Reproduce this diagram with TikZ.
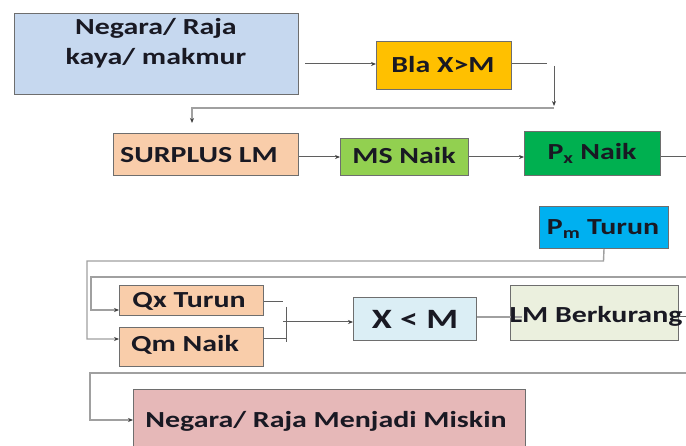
\documentclass[tikz,border=0pt]{standalone}
\usepackage{fontspec}
\setmainfont{Carlito}[FakeStretch=1.3]
\usetikzlibrary{arrows.meta}
\definecolor{bordercol}{RGB}{110,110,110}
\definecolor{linecol}{RGB}{95,95,95}
\definecolor{lightcol}{RGB}{160,160,160}
\definecolor{cB}{RGB}{198,216,239}
\definecolor{cBla}{RGB}{255,192,0}
\definecolor{cPeach}{RGB}{249,205,170}
\definecolor{cMS}{RGB}{146,208,80}
\definecolor{cPx}{RGB}{0,176,80}
\definecolor{cPm}{RGB}{0,176,240}
\definecolor{cXM}{RGB}{219,238,245}
\definecolor{cLM}{RGB}{235,240,222}
\definecolor{cMis}{RGB}{230,184,184}
\definecolor{txtcol}{RGB}{25,25,35}
\begin{document}
\begin{tikzpicture}[x=1pt,y=-1pt,
  box/.style={draw=bordercol, line width=1pt, inner sep=0pt, anchor=north west},
  txt/.style={font=\bfseries\fontsize{23}{28}\selectfont, text=txtcol, inner sep=0pt, anchor=base},
  bigtxt/.style={txt, font=\bfseries\fontsize{28}{32}\selectfont},
  conn/.style={draw=linecol, line width=1pt},
  arr/.style={conn, -{Stealth[length=5pt,width=4pt,color=black!75]}},
  light/.style={draw=lightcol, line width=1.4pt},
  larr/.style={light, -{Stealth[length=5pt,width=4pt,color=black!75]}}
]
\clip (0,0) rectangle (686,446);
\useasboundingbox (0,0) rectangle (686,446);

% boxes
\node[box, fill=cB,    minimum width=284pt, minimum height=81pt] (b1) at (14,13) {};
\node[box, fill=cBla,  minimum width=135pt, minimum height=48pt] (bla) at (376,41) {};
\node[box, fill=cPeach,minimum width=185pt, minimum height=42pt] (sur) at (113,133) {};
\node[box, fill=cMS,   minimum width=128pt, minimum height=37pt] (ms) at (340,138) {};
\node[box, fill=cPx,   minimum width=136pt, minimum height=44pt] (px) at (524,131) {};
\node[box, fill=cPm,   minimum width=129pt, minimum height=42pt] (pm) at (539,206) {};
\node[box, fill=cPeach,minimum width=144pt, minimum height=30pt] (qx) at (119,285) {};
\node[box, fill=cPeach,minimum width=144pt, minimum height=39pt] (qm) at (119,327) {};
\node[box, fill=cXM,   minimum width=123pt, minimum height=43pt] (xm) at (353,297) {};
\node[box, fill=cLM,   minimum width=168pt, minimum height=55pt] (lm) at (510,285) {};
\node[box, fill=cMis,  minimum width=392pt, minimum height=64pt] (mis) at (133,389) {};

% texts
\node[txt] (t1a) at (156,35) {Negara/ Raja};
\node[txt] (t1b) at (156,65) {kaya/ makmur};
\node[txt] (tbla) at (443,73) {Bla X>M};
\node[txt, anchor=base west] (tsur) at (120,163) {SURPLUS LM};
\node[txt] (tms) at (404,164) {MS Naik};
\node[txt] (tpx) at (592,160) {P\textsubscript{x} Naik};
\node[txt] (tpm) at (603,235) {P\textsubscript{m} Turun};
\node[txt] (tqx) at (189,308) {Qx Turun};
\node[txt] (tqm) at (185,352) {Qm Naik};
\node[bigtxt] (txm) at (415,329) {X < M};
\node[txt] (tmis) at (326,428) {Negara/ Raja Menjadi Miskin};

% connectors
\coordinate (a1) at (305,64);
\draw[arr] (a1) -- (bla.west |- a1);
\coordinate (a2) at (547,64);
\draw[conn] (bla.east |- a2) -- (a2);
\coordinate (a3) at (554,66);
\coordinate (a4) at (554,106);
\draw[arr] (a3) -- (a4);
\coordinate (a5) at (554,108);
\coordinate (a6) at (192,123);
\draw[larr] (a5) -| (a6);

\draw[arr] (sur.east |- ms.west) -- (ms.west);
\draw[arr] (ms.east) -- (ms.east -| px.west);
\coordinate (e1) at (686,156.5);
\draw[conn] (px.east |- e1) -- (e1);

\coordinate (p1) at (603.5,261);
\coordinate (p2) at (87,261);
\coordinate (p3) at (87,339);
\draw[larr] (pm.south) -- (p1) -- (p2) -- (p3) -- (qm.west |- p3);

\coordinate (r1) at (686,277);
\coordinate (r2) at (91,277);
\coordinate (r3) at (91,310);
\draw[larr] (r1) -- (r2) -- (r3) -- (qx.west |- r3);

\coordinate (q1) at (283,302);
\draw[conn] (qx.east |- q1) -- (q1);
\coordinate (q2) at (286,339);
\draw[conn] (qm.east |- q2) -- (q2);
\coordinate (q3) at (286,307);
\coordinate (q4) at (286,342);
\draw[conn] (q3) -- (q4);
\coordinate (q5) at (283,322);
\draw[arr] (q5) -- (xm.west |- q5);

\coordinate (x1) at (522,317);
\draw[light] (xm.east |- x1) -- (x1);
\node[txt] (tlm) at (596,323) {LM Berkurang};
\coordinate (x2) at (686,317);
\draw[conn] (lm.east |- x2) -- (x2);

\coordinate (m1) at (686,373);
\coordinate (m2) at (90,373);
\coordinate (m3) at (90,420);
\draw[larr] (m1) -- (m2) -- (m3) -- (mis.west |- m3);
\end{tikzpicture}
\end{document}
